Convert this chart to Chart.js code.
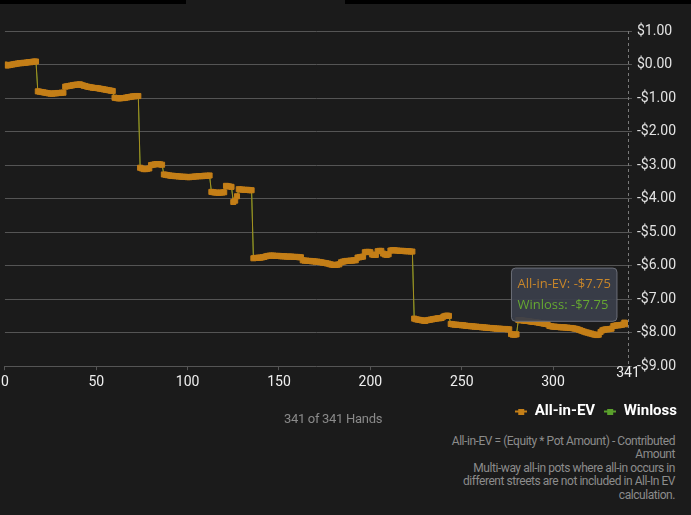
<!DOCTYPE html>
<html lang="en">
<head>
<meta charset="UTF-8">
<title>All-in-EV</title>
<script src="https://cdn.jsdelivr.net/npm/chart.js@4"></script>
<style>
  html, body { margin: 0; padding: 0; background: #1b1b1b; }
  body { width: 691px; height: 515px; position: relative; overflow: hidden;
         font-family: Roboto, sans-serif; }
  .bar { position: absolute; top: 0; height: 4px; background: #000; }
  #chart { position: absolute; left: -3px; top: 0; }
  .hands { position: absolute; left: 233px; width: 200px; top: 411px; text-align: center;
           color: #8a8a8a; font-size: 13px; letter-spacing: -0.3px; }
  .note { position: absolute; right: 16px; top: 435px; text-align: right;
          color: #8c8c8c; font-size: 12px; line-height: 13.4px; letter-spacing: -0.45px; }
</style>
</head>
<body>
<div class="bar" style="left:0;width:186px"></div>
<div class="bar" style="left:345px;width:346px"></div>
<canvas id="chart" width="697" height="429"></canvas>
<div class="hands">341 of 341 Hands</div>
<div class="note">All-in-EV = (Equity * Pot Amount) - Contributed<br>Amount<br>Multi-way all-in pots where all-in occurs in<br>different streets are not included in All-In EV<br>calculation.</div>

<script>
// cumulative all-in-EV per hand, hand 0..341
const allInEV = [
  0.00, -0.03, -0.02, -0.01, 0.00, 0.01, 0.02, 0.03, 0.04, 0.04,
  0.05, 0.05, 0.06, 0.07, 0.07, 0.08, 0.09, 0.09,
  -0.80, -0.81, -0.82, -0.83, -0.84, -0.85, -0.86, -0.87, -0.87, -0.86,
  -0.86, -0.85, -0.85, -0.84, -0.84,
  -0.66, -0.65, -0.64, -0.63, -0.62, -0.61,
  -0.60, -0.60, -0.59, -0.61, -0.63, -0.64, -0.66, -0.67, -0.68, -0.69,
  -0.70, -0.70, -0.71, -0.72, -0.73, -0.74, -0.75, -0.76, -0.77, -0.78,
  -0.79, -0.99, -1.00, -1.01, -1.01, -1.00, -1.00, -0.99, -0.98, -0.97,
  -0.96, -0.95, -0.95, -0.94, -0.94, -3.08, -3.10, -3.12, -3.12, -3.11,
  -3.10, -3.00, -2.99, -2.98, -2.97, -2.97, -2.98, -2.99, -3.28, -3.29,
  -3.30, -3.31, -3.32, -3.32, -3.33, -3.33, -3.34, -3.34, -3.35, -3.35,
  -3.35, -3.36, -3.36, -3.35, -3.35, -3.34, -3.34, -3.33, -3.33, -3.33,
  -3.32, -3.32, -3.32, -3.31, -3.80, -3.81, -3.82, -3.82, -3.83, -3.82,
  -3.82, -3.81, -3.62, -3.63, -3.64, -3.65, -4.10, -4.06, -3.93, -3.72,
  -3.73, -3.73, -3.74, -3.74, -3.74, -3.75, -3.75, -5.78, -5.77, -5.77,
  -5.76, -5.76, -5.75, -5.74, -5.72, -5.71, -5.70, -5.70, -5.70, -5.71,
  -5.71, -5.71, -5.72, -5.72, -5.72, -5.73, -5.73, -5.73, -5.73, -5.74,
  -5.74, -5.74, -5.75, -5.75, -5.84, -5.85, -5.85, -5.86, -5.86, -5.87,
  -5.87, -5.88, -5.88, -5.89, -5.90, -5.91, -5.92, -5.93, -5.94, -5.96,
  -5.97, -5.98, -5.98, -5.97, -5.96, -5.90, -5.88, -5.87, -5.86, -5.86,
  -5.85, -5.85, -5.84, -5.84, -5.76, -5.75, -5.74, -5.73, -5.60, -5.59,
  -5.59, -5.60, -5.67, -5.68, -5.68, -5.57, -5.56, -5.56, -5.64, -5.67,
  -5.68, -5.66, -5.55, -5.54, -5.54, -5.55, -5.55, -5.56, -5.56, -5.56,
  -5.57, -5.57, -5.57, -5.58, -5.58,
  -7.58, -7.60, -7.61, -7.62, -7.63, -7.64,
  -7.65, -7.63, -7.62, -7.61, -7.60, -7.59, -7.58, -7.57, -7.57, -7.56,
  -7.52, -7.50, -7.49, -7.50, -7.74, -7.75, -7.76, -7.76, -7.77, -7.77,
  -7.78, -7.78, -7.79, -7.80, -7.80, -7.81, -7.81, -7.82, -7.82, -7.83,
  -7.83, -7.84, -7.84, -7.85, -7.85, -7.86, -7.86, -7.87, -7.87, -7.88,
  -7.88, -7.88, -7.89, -7.89, -7.89, -7.90, -7.90, -8.04, -8.06, -8.06,
  -8.05, -7.62, -7.63, -7.63, -7.64, -7.65, -7.65, -7.66, -7.67, -7.68,
  -7.68, -7.69, -7.70, -7.71, -7.72, -7.73, -7.74, -7.75, -7.80, -7.81,
  -7.82, -7.82, -7.83, -7.83, -7.84, -7.84, -7.84, -7.85, -7.85, -7.86,
  -7.86, -7.87, -7.88, -7.89, -7.91, -7.93, -7.95, -7.97, -7.99, -8.00,
  -8.02, -8.03, -8.05, -8.06, -8.07, -8.06, -7.98, -7.93, -7.91, -7.90,
  -7.90, -7.89, -7.88, -7.80, -7.79, -7.78, -7.78, -7.77, -7.76, -7.70,
  -7.72, -7.75
];
// winloss ends at the same -$7.75 and sits under the EV line the whole way
const winloss = allInEV.slice();

const xTicks = [0, 50, 100, 150, 200, 250, 300, 341];
const yTicks = [1, 0, -1, -2, -3, -4, -5, -6, -7, -8, -9];

const EV_COLOR = '#c47f18';
const WL_COLOR = '#5aa02c';
const FONT = "Roboto, sans-serif";

const money = v => (v < 0 ? '-$' : '$') + Math.abs(v).toFixed(2);

// legend marker: short line with a square in the middle
function legendIcon(color) {
  const c = document.createElement('canvas');
  c.width = 12; c.height = 6;
  const g = c.getContext('2d');
  g.fillStyle = color;
  g.fillRect(0, 2, 12, 2);
  g.fillRect(3, 0, 6, 6);
  return c;
}
const icons = [legendIcon(EV_COLOR), legendIcon(WL_COLOR)];

// tooltip sits up and left of the last point
Chart.Tooltip.positioners.lastPoint = function (items) {
  if (!items.length) return false;
  const el = items[0].element;
  return { x: el.x - 15, y: el.y - 3 };
};

const crosshair = {
  id: 'crosshair',
  afterDatasetsDraw(chart) {
    const act = chart.tooltip.getActiveElements();
    if (!act.length) return;
    const x = Math.round(act[0].element.x) + 0.5;
    const { top, bottom } = chart.chartArea;
    const ctx = chart.ctx;
    ctx.save();
    ctx.setLineDash([3, 3]);
    ctx.strokeStyle = '#7a7a7a';
    ctx.lineWidth = 1;
    ctx.beginPath();
    ctx.moveTo(x, top);
    ctx.lineTo(x, bottom);
    ctx.stroke();
    ctx.restore();
  }
};

// the last x label ("341") is drawn a bit higher than the others
const lastLabel = {
  id: 'lastLabel',
  afterDraw(chart) {
    const xs = chart.scales.x;
    const ctx = chart.ctx;
    const v = xTicks[xTicks.length - 1];
    ctx.save();
    ctx.font = '14px ' + FONT;
    ctx.fillStyle = '#eeeeee';
    ctx.textAlign = 'center';
    ctx.textBaseline = 'middle';
    ctx.fillText(String(v), xs.getPixelForValue(v), xs.top + 7);
    ctx.restore();
  }
};

const chart = new Chart(document.getElementById('chart'), {
  type: 'line',
  data: {
    datasets: [
      {
        label: 'All-in-EV',
        data: allInEV.map((y, x) => ({ x, y })),
        borderColor: 'rgba(185,140,30,0.8)',
        borderWidth: 1,
        pointStyle: 'rect',
        pointRadius: 3.6,
        pointHoverRadius: 3.6,
        pointBorderWidth: 1,
        pointHoverBorderWidth: 1,
        pointBackgroundColor: EV_COLOR,
        pointBorderColor: EV_COLOR,
        pointHoverBackgroundColor: EV_COLOR,
        pointHoverBorderColor: EV_COLOR,
        tension: 0
      },
      {
        label: 'Winloss',
        data: winloss.map((y, x) => ({ x, y })),
        borderColor: WL_COLOR,
        borderWidth: 1,
        pointRadius: 0,
        pointHoverRadius: 0,
        tension: 0
      }
    ]
  },
  options: {
    responsive: false,
    animation: false,
    events: [],
    layout: { padding: { top: 31, right: 8, left: 0, bottom: 0 } },
    scales: {
      x: {
        type: 'linear',
        min: 0,
        max: 341,
        afterBuildTicks: s => { s.ticks = xTicks.map(value => ({ value })); },
        ticks: {
          color: '#eeeeee',
          font: { family: FONT, size: 14 },
          padding: 4,
          maxRotation: 0,
          autoSkip: false,
          callback: v => (v === 341 ? '' : v)
        },
        grid: { drawOnChartArea: false, color: '#555555', tickLength: 4 },
        border: { display: false }
      },
      y: {
        position: 'right',
        min: -9,
        max: 1,
        afterBuildTicks: s => { s.ticks = yTicks.map(value => ({ value })); },
        afterFit: s => { s.width += 5; },
        ticks: {
          color: '#e2e2e2',
          font: { family: FONT, size: 14 },
          padding: 5,
          callback: v => money(v)
        },
        grid: { color: '#555555', tickLength: 4 },
        border: { display: false }
      }
    },
    plugins: {
      legend: {
        position: 'bottom',
        align: 'end',
        labels: {
          color: '#ffffff',
          font: { family: FONT, size: 15, weight: 'bold' },
          usePointStyle: true,
          pointStyleWidth: 12,
          boxHeight: 8,
          padding: 9,
          generateLabels(c) {
            const items = Chart.defaults.plugins.legend.labels.generateLabels(c);
            items.forEach((it, i) => { it.pointStyle = icons[i]; });
            return items;
          }
        }
      },
      tooltip: {
        mode: 'index',
        intersect: false,
        position: 'lastPoint',
        xAlign: 'right',
        yAlign: 'bottom',
        caretSize: 0,
        caretPadding: 0,
        backgroundColor: 'rgba(58,62,74,0.93)',
        borderColor: '#6c6f79',
        borderWidth: 1,
        cornerRadius: 4,
        padding: { x: 6, y: 8 },
        bodyFont: { family: "'Open Sans', sans-serif", size: 13 },
        bodySpacing: 6,
        displayColors: false,
        callbacks: {
          title: () => '',
          label: ctx => ctx.dataset.label + ': ' + money(ctx.parsed.y),
          labelTextColor: ctx => (ctx.datasetIndex === 0 ? '#c8862a' : '#66a832')
        }
      }
    }
  },
  plugins: [crosshair, lastLabel]
});

const last = allInEV.length - 1;
const active = [{ datasetIndex: 0, index: last }, { datasetIndex: 1, index: last }];
chart.setActiveElements(active);
chart.tooltip.setActiveElements(active, { x: 0, y: 0 });
chart.update();
</script>
</body>
</html>
